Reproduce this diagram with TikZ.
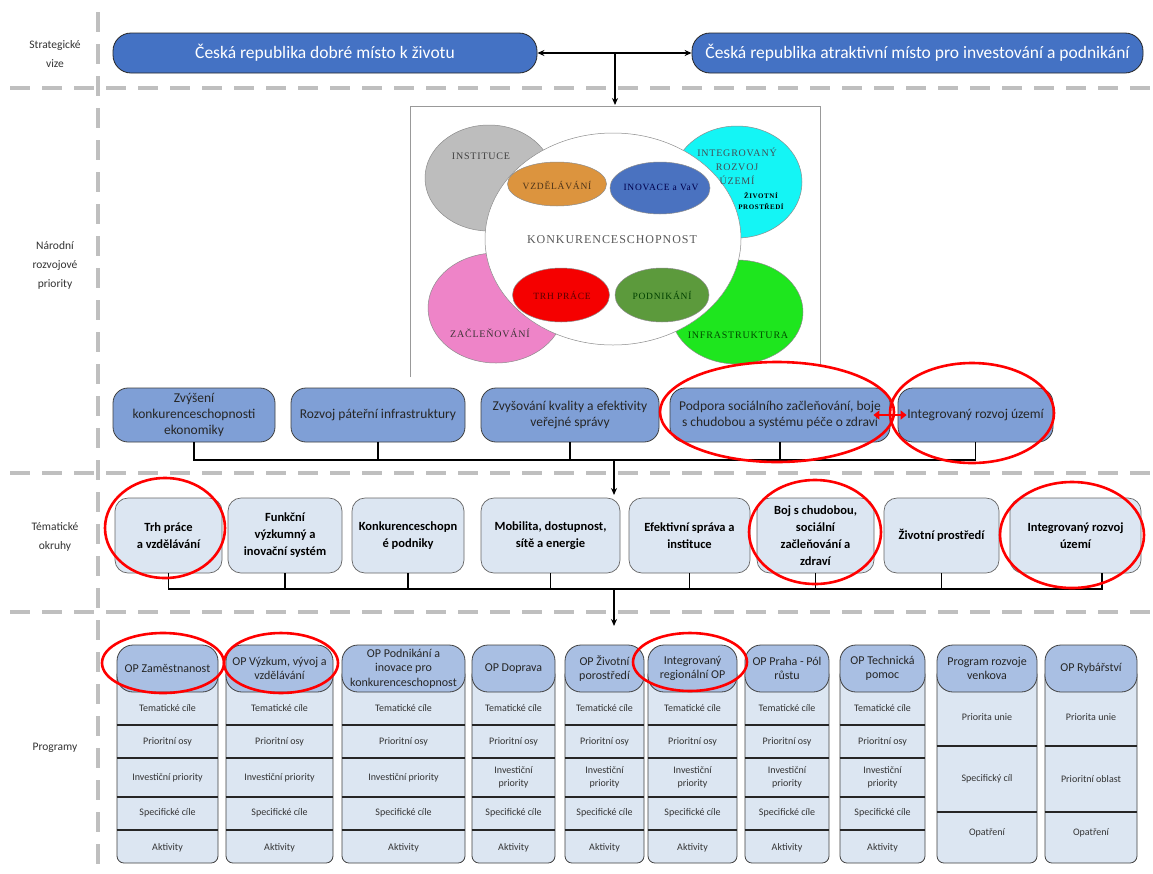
\documentclass[tikz,border=0pt]{standalone}
\usepackage{fontspec}
\setmainfont{Carlito}
\newfontfamily\picfont[LetterSpace=8]{Liberation Serif}
\usetikzlibrary{shapes.geometric,arrows.meta}
\definecolor{topblue}{HTML}{4472C4}
\definecolor{prioblue}{HTML}{7F9FD6}
\definecolor{paleblue}{HTML}{DCE6F2}
\definecolor{headblue}{HTML}{A9BFE3}
\definecolor{lanegray}{HTML}{BFBFBF}
\definecolor{ellgray}{HTML}{BDBDBD}
\definecolor{ellcyan}{HTML}{14F5F5}
\definecolor{ellpink}{HTML}{EE84C8}
\definecolor{ellgreen}{HTML}{1EE61E}
\definecolor{ellorange}{HTML}{DC943E}
\definecolor{ellblue}{HTML}{4A72C0}
\definecolor{ellred}{HTML}{F50000}
\definecolor{elldgreen}{HTML}{5C9A3C}
\tikzset{
 lane/.style={draw=lanegray, line width=4pt, dash pattern=on 20pt off 12pt},
 topbox/.style={draw=black!85, line width=0.8pt, fill=topblue, rounded corners=18pt, text=white, font=\fontsize{17.5}{20}\selectfont, inner sep=0pt, minimum height=40pt},
 prio/.style={draw=black!75, line width=0.8pt, fill=prioblue, rounded corners=15pt, text=black!85, font=\fontsize{13.5}{16}\selectfont, align=center, inner sep=0pt, minimum height=54pt},
 thembox/.style={draw=black!60, line width=0.7pt, fill=paleblue, rounded corners=13pt, font=\bfseries\fontsize{12.5}{17}\selectfont, align=center, inner sep=0pt, minimum height=75pt},
 pbody/.style={draw=black!75, line width=0.8pt, fill=paleblue, rounded corners=7pt, minimum height=195pt, inner sep=0pt},
 phead/.style={draw=black!75, line width=0.8pt, fill=headblue, rounded corners=16pt, minimum height=47pt, inner sep=0pt, font=\fontsize{12}{14.5}\selectfont, align=center, text=black!85},
 prow/.style={font=\fontsize{10}{12.5}\selectfont, align=center, inner sep=0pt, text=black!80},
 rowline/.style={draw=black!85, line width=1.3pt},
 seclabel/.style={font=\fontsize{11.5}{19}\selectfont, align=center, text=black!80},
 ring/.style={ellipse, draw=red, line width=2.6pt, inner sep=0pt},
 ell/.style={ellipse, draw=black!45, line width=0.5pt, inner sep=0pt},
 pictext/.style={font=\picfont\fontsize{10}{14}\selectfont, align=center, inner sep=0pt},
 intext/.style={font=\picfont\fontsize{9.5}{11}\selectfont, align=center, inner sep=0pt},
 conn/.style={draw=black, line width=1.2pt},
 arr/.style={conn, -{Stealth[length=7pt,width=6pt]}},
}
\newcommand\progcol[5]{%
  \node[pbody, minimum width=#3pt] (#1b) at (#2,765.5) {};
  \draw[rowline] (#1b.west |- 0,725) -- (#1b.east |- 0,725);
  \draw[rowline] (#1b.west |- 0,758) -- (#1b.east |- 0,758);
  \draw[rowline] (#1b.west |- 0,797) -- (#1b.east |- 0,797);
  \draw[rowline] (#1b.west |- 0,830) -- (#1b.east |- 0,830);
  \node[phead, minimum width=#3pt] (#1h) at (#2,668.5) {#4};
  \node[prow] (#1r1) at (#2,708.5) {Tematické cíle};
  \node[prow] (#1r2) at (#2,742) {Prioritní osy};
  \node[prow] (#1r3) at (#2,777.5) {#5};
  \node[prow] (#1r4) at (#2,813) {Specifické cíle};
  \node[prow] (#1r5) at (#2,848) {Aktivity};
}
\newcommand\progcolB[5]{%
  \node[pbody, minimum width=#3pt] (#1b) at (#2,765.5) {};
  \draw[rowline] (#1b.west |- 0,746) -- (#1b.east |- 0,746);
  \draw[rowline] (#1b.west |- 0,812) -- (#1b.east |- 0,812);
  \node[phead, minimum width=#3pt] (#1h) at (#2,668.5) {#4};
  \node[prow] (#1r1) at (#2,717) {Priorita unie};
  \node[prow] (#1r2) at (#2,779) {#5};
  \node[prow] (#1r3) at (#2,833) {Opatření};
}
\begin{document}
\begin{tikzpicture}[x=1pt,y=-1pt]
\useasboundingbox (0,0) rectangle (1153,873);
\fill[white] (0,0) rectangle (1153,873);
% lanes
\draw[lane] (98,12) -- (98,873);
\draw[lane] (10,88) -- (1153,88);
\draw[lane] (10,473) -- (1153,473);
\draw[lane] (10,612) -- (1153,612);
% section labels
\node[seclabel] (lstrat) at (55,54) {Strategické\\vize};
\node[seclabel] (lnar) at (55,265) {Národní\\rozvojové\\priority};
\node[seclabel] (ltem) at (55,537) {Tématické\\okruhy};
\node[seclabel] (lprog) at (55,748) {Programy};
% top boxes
\node[topbox, minimum width=424pt] (b1) at (325,53) {Česká republika dobré místo k životu};
\node[topbox, minimum width=451pt] (b2) at (917.5,53) {Česká republika atraktivní místo pro investování a podnikání};
\draw[conn, {Stealth[length=7pt,width=6pt]}-{Stealth[length=7pt,width=6pt]}] (b1.east) -- (b2.west);
\coordinate (bj) at (615,53);
\coordinate (ptop) at (615,105);
\draw[arr] (bj) -- (ptop);
% picture frame
\draw[black!40, line width=1pt] (410,377) -- (410,106) -- (820,106) -- (820,365);
% outer ellipses
\node[ell, fill=ellgray, minimum width=128pt, minimum height=106pt] (einst) at (489,178) {};
\node[ell, fill=ellcyan, minimum width=130pt, minimum height=112pt] (eirz) at (737,182) {};
\node[ell, fill=ellpink, minimum width=136pt, minimum height=110pt] (ezac) at (496,308) {};
\node[ell, fill=ellgreen, minimum width=132pt, minimum height=104pt] (einf) at (737,312) {};
\node[ell, fill=white, minimum width=256pt, minimum height=212pt] (ekonk) at (613,239) {};
\node[ell, fill=ellorange, minimum width=99pt, minimum height=44pt] (evzd) at (557,184) {};
\node[ell, fill=ellblue, minimum width=100pt, minimum height=52pt] (einov) at (660,188) {};
\node[ell, fill=ellred, minimum width=97pt, minimum height=54pt] (etrh) at (561,295) {};
\node[ell, fill=elldgreen, minimum width=94pt, minimum height=54pt] (epod) at (662,295) {};
% picture texts
\node[pictext, text=black!75] (tinst) at (481,156) {INSTITUCE};
\node[pictext, text=black!60!cyan!60!black] (tirz) at (737,166) {INTEGROVANÝ\\ROZVOJ\\ÚZEMÍ};
\node[font=\picfont\bfseries\fontsize{7}{11}\selectfont, align=center, inner sep=0pt] (tzp) at (761,201) {ŽIVOTNÍ\\PROSTŘEDÍ};
\node[pictext, font=\picfont\fontsize{12}{13}\selectfont, text=black!65] (tkonk) at (612,240) {KONKURENCESCHOPNOST};
\node[pictext, text=black!70!magenta!40!black] (tzac) at (490,333) {ZAČLEŇOVÁNÍ};
\node[pictext, text=green!30!black] (tinf) at (738,335) {INFRASTRUKTURA};
\node[intext, text=brown!40!black] (tvzd) at (557,185) {VZDĚLÁVÁNÍ};
\node[intext, text=blue!30!black] (tinov) at (661,187) {INOVACE a VaV};
\node[intext, text=red!35!black] (ttrh) at (562,295) {TRH PRÁCE};
\node[intext, text=green!25!black] (tpod) at (662,295) {PODNIKÁNÍ};
% priorities
\node[prio, minimum width=162pt] (p1) at (194,415) {Zvýšení\\konkurenceschopnosti\\ekonomiky};
\node[prio, minimum width=174pt] (p2) at (378,415) {Rozvoj páteřní infrastruktury};
\node[prio, minimum width=178pt] (p3) at (570,415) {Zvyšování kvality a efektivity\\veřejné správy};
\node[prio, minimum width=220pt] (p4) at (780,415) {Podpora sociálního začleňování, boje\\s chudobou a systému péče o zdraví};
\node[prio, minimum width=155pt] (p5) at (975.5,415) {Integrovaný rozvoj území};
\coordinate (pbus) at (614,460);
\draw[conn] (p1.south) |- (p5.south |- pbus) -- (p5.south);
\foreach \n in {p2,p3,p4} \draw[conn] (\n.south) -- (\n.south |- pbus);
\coordinate (tarrow) at (614,495);
\draw[arr] (pbus) -- (tarrow);
\draw[red, line width=2.5pt, {Triangle[length=6pt,width=9pt]}-{Triangle[length=6pt,width=9pt]}] ([xshift=-17pt]p4.east) -- ([xshift=9pt]p5.west);
% thematic
\node[thembox, minimum width=107pt] (t1) at (168.5,535.5) {Trh práce\\a vzdělávání};
\node[thembox, minimum width=114pt] (t2) at (285,535.5) {Funkční\\výzkumný a\\inovační systém};
\node[thembox, minimum width=112pt] (t3) at (408,535.5) {Konkurenceschopn\\é podniky};
\node[thembox, minimum width=139pt] (t4) at (550.5,535.5) {Mobilita, dostupnost,\\sítě a energie};
\node[thembox, minimum width=121pt] (t5) at (689.5,535.5) {Efektivní správa a\\instituce};
\node[thembox, minimum width=117pt] (t6) at (815.5,535.5) {Boj s chudobou,\\sociální\\začleňování a\\zdraví};
\node[thembox, minimum width=115pt] (t7) at (941.5,535.5) {Životní prostředí};
\node[thembox, minimum width=131pt] (t8) at (1075.5,535.5) {Integrovaný rozvoj\\území};
\coordinate (tbus) at (614,589);
\coordinate (t8d) at ([xshift=26.5pt]t8.south);
\draw[conn] (t1.south) |- (t8d |- tbus) -- (t8d);
\foreach \n in {t2,t3,t4,t5,t6,t7} \draw[conn] (\n.south) -- (\n.south |- tbus);
\coordinate (parrow) at (614,626);
\draw[arr] (tbus) -- (parrow);
% programs
\progcol{c1}{167.5}{101}{OP Zaměstnanost}{Investiční priority}
\progcol{c2}{279.5}{107}{OP Výzkum, vývoj a\\vzdělávání}{Investiční priority}
\progcol{c3}{403.5}{123}{OP Podnikání a\\inovace pro\\konkurenceschopnost}{Investiční priority}
\progcol{c4}{513.5}{83}{OP Doprava}{Investiční\\priority}
\progcol{c5}{604.5}{79}{OP Životní\\porostředí}{Investiční\\priority}
\progcol{c6}{692.5}{89}{Integrovaný\\regionální OP}{Investiční\\priority}
\progcol{c7}{787}{84}{OP Praha - Pól\\růstu}{Investiční\\priority}
\progcol{c8}{882.5}{85}{OP Technická\\pomoc}{Investiční\\priority}
\progcolB{c9}{987}{100}{Program rozvoje\\venkova}{Specifický cíl}
\progcolB{c10}{1091}{92}{OP Rybářství}{Prioritní oblast}
% red rings
\node[ring, minimum width=234pt, minimum height=100pt] (r1) at (777,412) {};
\node[ring, minimum width=164pt, minimum height=100pt] (r2) at (972,413) {};
\node[ring, minimum width=120pt, minimum height=100pt] (r3) at (165,528) {};
\node[ring, minimum width=132pt, minimum height=104pt] (r4) at (815,532) {};
\node[ring, minimum width=144pt, minimum height=106pt] (r5) at (1072,535) {};
\node[ring, minimum width=122pt, minimum height=60pt] (r6) at (163,663) {};
\node[ring, minimum width=114pt, minimum height=60pt] (r7) at (281,663) {};
\node[ring, minimum width=114pt, minimum height=58pt] (r8) at (690,662) {};
\end{tikzpicture}
\end{document}
